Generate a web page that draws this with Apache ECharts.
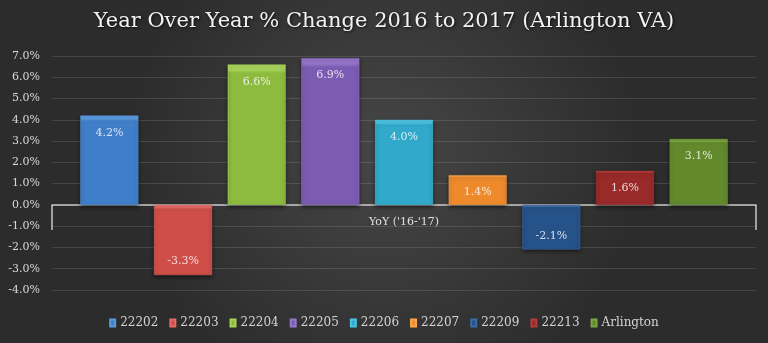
<!DOCTYPE html>
<html>
<head>
<meta charset="utf-8">
<script src="https://cdn.jsdelivr.net/npm/echarts@6/dist/echarts.min.js"></script>
<style>
html,body{margin:0;padding:0;background:#353535;}
#chart{width:768px;height:343px;}
</style>
</head>
<body>
<div id="chart"></div>
<script>
const titleText = "Year Over Year % Change 2016 to 2017 (Arlington VA)";
const categories = ["YoY ('16-'17)"];
const seriesNames = ["22202", "22203", "22204", "22205", "22206", "22207", "22209", "22213", "Arlington"];
const seriesValues = [4.2, -3.3, 6.6, 6.9, 4.0, 1.4, -2.1, 1.6, 3.1];
const seriesColors = [
  ["#5b9be0", "#3f7fc9"],
  ["#e86a64", "#cf4e48"],
  ["#a7d45a", "#8dbb3f"],
  ["#9676c9", "#7c5cb2"],
  ["#4cc3e2", "#31a9cb"],
  ["#fba54c", "#ee8a2c"],
  ["#3a6ca8", "#26528a"],
  ["#b53c3a", "#982a29"],
  ["#7ba541", "#628a2c"]
];
const yTicks = { min: -4, max: 7, interval: 1 };

const serif = "'DejaVu Serif', 'Liberation Serif', serif";
const gridTop = 56, gridBottom = 53, chartHeight = 343;
const plotHeight = chartHeight - gridTop - gridBottom;
// distance of the zero line above the grid bottom, derived from the axis range
const zeroOffset = plotHeight * (0 - yTicks.min) / (yTicks.max - yTicks.min);

const chart = echarts.init(document.getElementById('chart'), null, { renderer: 'canvas' });

const series = seriesNames.map((name, i) => {
  const v = seriesValues[i];
  const c = seriesColors[i];
  return {
    name: name,
    type: 'bar',
    data: [v],
    barWidth: 58,
    barGap: '27%',
    itemStyle: {
      color: new echarts.graphic.LinearGradient(0, 0, 0, 1, [
        { offset: 0, color: c[0] },
        { offset: 0.04, color: c[0] },
        { offset: 0.06, color: c[1] },
        { offset: 1, color: c[1] }
      ]),
      borderColor: c[0],
      borderWidth: 0.5,
      shadowColor: 'rgba(0,0,0,0.55)',
      shadowBlur: 4,
      shadowOffsetY: 2
    },
    label: {
      show: true,
      position: v >= 0 ? 'insideTop' : 'insideBottom',
      distance: v >= 0 ? 12 : 8,
      color: 'rgba(255,255,255,0.8)',
      fontFamily: serif,
      fontSize: 11,
      formatter: p => p.value.toFixed(1) + '%'
    }
  };
});

chart.setOption({
  backgroundColor: new echarts.graphic.RadialGradient(0.5, 0.45, 0.75, [
    { offset: 0, color: '#464646' },
    { offset: 1, color: '#2c2c2c' }
  ]),
  animation: false,
  title: {
    text: titleText,
    left: 'center',
    top: 6,
    textStyle: {
      color: '#f2f2f2',
      fontFamily: serif,
      fontSize: 21,
      fontWeight: 'normal',
      textShadowColor: 'rgba(0,0,0,0.8)',
      textShadowBlur: 3,
      textShadowOffsetX: 1,
      textShadowOffsetY: 1
    }
  },
  legend: {
    data: seriesNames,
    bottom: 9,
    left: 'center',
    icon: 'rect',
    itemWidth: 5,
    itemHeight: 7,
    itemGap: 11,
    textStyle: { color: '#d4d4d4', fontFamily: serif, fontSize: 12 }
  },
  grid: { left: 52, right: 12, top: gridTop, bottom: gridBottom, containLabel: false },
  xAxis: {
    type: 'category',
    data: categories,
    position: 'bottom',
    offset: -zeroOffset,
    axisLine: { show: true, onZero: false, lineStyle: { color: '#c8c8c8', width: 1.5 } },
    axisTick: { show: true, length: 25, lineStyle: { color: '#c8c8c8', width: 1.5 } },
    axisLabel: { color: '#e0e0e0', fontFamily: serif, fontSize: 11, margin: 12 }
  },
  yAxis: {
    type: 'value',
    min: yTicks.min,
    max: yTicks.max,
    interval: yTicks.interval,
    axisLine: { show: false },
    axisTick: { show: false },
    axisLabel: {
      color: '#d8d8d8',
      fontFamily: serif,
      fontSize: 11,
      margin: 12,
      formatter: v => v.toFixed(1) + '%'
    },
    splitLine: { lineStyle: { color: 'rgba(255,255,255,0.12)', width: 1 } }
  },
  series: series
});
</script>
</body>
</html>
